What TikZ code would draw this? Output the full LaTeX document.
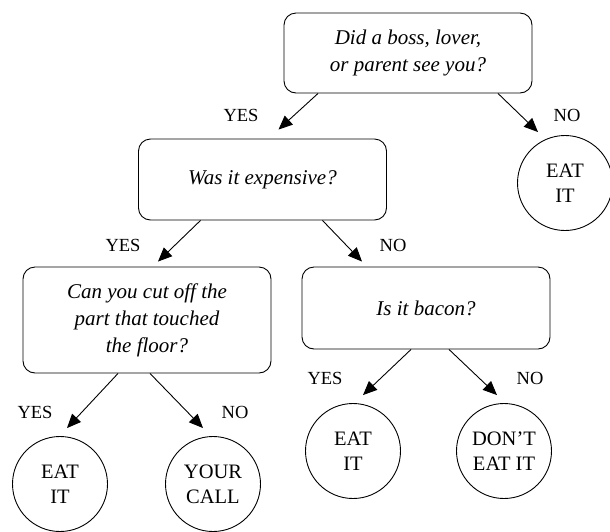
\documentclass[tikz,border=0pt]{standalone}
\usepackage{fontspec}
\setmainfont{Liberation Serif}
\usetikzlibrary{arrows.meta,calc}
\begin{document}
\begin{tikzpicture}[x=1pt,y=-1pt,
  qbox/.style={draw,line width=0.9pt,rounded corners=12pt,minimum width=248pt,align=center,
    font=\fontsize{21}{27}\selectfont\itshape,inner sep=0pt},
  ans/.style={draw,circle,line width=0.9pt,minimum size=95pt,inner sep=0pt,align=center,
    font=\fontsize{20.5}{25}\selectfont},
  lbl/.style={font=\fontsize{18.5}{20}\selectfont,inner sep=0pt},
  arr/.style={line width=0.9pt,-{Triangle[length=14pt,width=12pt]}}]
\useasboundingbox (0,0) rectangle (610,531);
\node[qbox,minimum height=80pt] (b1) at (408,53) {Did a boss, lover,\\or parent see you?};
\node[qbox,minimum height=81pt] (b2) at (262.5,179.5) {Was it expensive?};
\node[qbox,minimum height=106pt] (b3) at (147,320) {Can you cut off the\\part that touched\\the floor?};
\node[qbox,minimum height=82pt] (b4) at (426,308) {Is it bacon?};
\node[ans] (c1) at (565,183) {EAT\\IT};
\node[ans] (c2) at (60,484) {EAT\\IT};
\node[ans] (c3) at (213,484) {YOUR\\CALL};
\node[ans] (c4) at (353,451) {EAT\\IT};
\node[ans] (c5) at (504,451) {DON’T\\EAT IT};
\draw[arr] ($(b1.south)+(-90,0)$) -- ($(b2.north)+(16,-9)$);
\draw[arr] ($(b1.south)+(90,0)$) -- ($(c1.north)+(-27,-3)$);
\draw[arr] ($(b2.south)+(-62,0)$) -- ($(b3.north)+(11,-5)$);
\draw[arr] ($(b2.south)+(60,0)$) -- ($(b4.north)+(-64,-5)$);
\draw[arr] ($(b3.south)+(-29,0)$) -- ($(c2.north)+(7,-8)$);
\draw[arr] ($(b3.south)+(3,0)$) -- ($(c3.north)+(-10,-8)$);
\draw[arr] ($(b4.south)+(-15,0)$) -- ($(c4.north)+(10,-8)$);
\draw[arr] ($(b4.south)+(23,0)$) -- ($(c5.north)+(-7,-8)$);
\node[lbl] (l1) at (241,115) {YES};
\node[lbl] (l2) at (567,115) {NO};
\node[lbl] (l3) at (123,245) {YES};
\node[lbl] (l4) at (393,245) {NO};
\node[lbl] (l5) at (35,412) {YES};
\node[lbl] (l6) at (235,412) {NO};
\node[lbl] (l7) at (325,378) {YES};
\node[lbl] (l8) at (530,378) {NO};
\end{tikzpicture}
\end{document}
